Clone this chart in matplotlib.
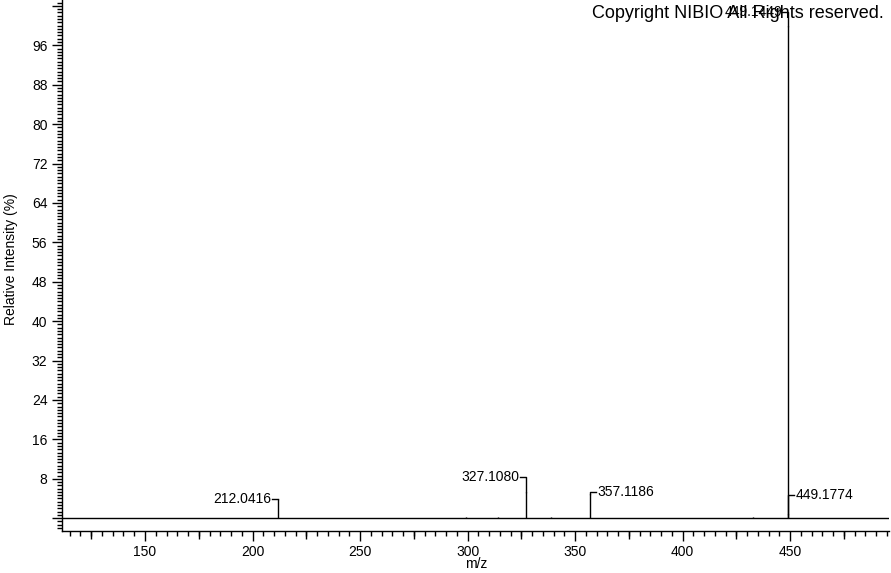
import matplotlib
matplotlib.use("Agg")
import matplotlib.pyplot as plt
from matplotlib.ticker import MultipleLocator, AutoMinorLocator, FuncFormatter

plt.rcParams['font.family'] = ['Liberation Sans', 'DejaVu Sans']

# Peak data (m/z, relative intensity %)
mz = [212.0416, 299.1, 314.0, 327.1080, 339.0, 357.1186, 432.9, 449.1449, 449.1774]
intensity = [3.8, 0.3, 0.3, 5.3, 0.3, 5.0, 0.3, 100.0, 0.8]

# Labelled peaks: (m/z, label text, label height, side)
label_mz = [212.0416, 327.1080, 357.1186, 449.1774, 449.1449]
label_text = ["212.0416", "327.1080", "357.1186", "449.1774", "449.1449"]
label_y = [3.9, 8.3, 5.3, 4.7, 102.7]
label_side = ["left", "left", "right", "right", "top"]

y_tick_labels = [8, 16, 24, 32, 40, 48, 56, 64, 72, 80, 88, 96]

xlim = (111.4, 496.0)
ylim = (-2.6, 105.2)

fig = plt.figure(figsize=(8.91, 5.73), dpi=100)
ax = fig.add_axes([62/891, 1 - 531/573, 827/891, 531/573])
ax.set_xlim(*xlim)
ax.set_ylim(*ylim)

for s in ['top', 'right']:
    ax.spines[s].set_visible(False)
for s in ['left', 'bottom']:
    ax.spines[s].set_linewidth(1.0)

# baseline
ax.axhline(0, color='black', lw=1.0)

# peaks
ax.vlines(mz, 0, intensity, color='black', lw=1.0)

# labels with connectors
dx = 2.8  # horizontal connector length in data units
for m, t, y, side in zip(label_mz, label_text, label_y, label_side):
    top = intensity[mz.index(m)]
    if side == "left":
        ax.plot([m - dx, m, m], [y, y, top], color='black', lw=1.0)
        ax.text(m - dx - 0.4, y, t, ha='right', va='center', fontsize=10)
    elif side == "right":
        ax.plot([m + dx, m, m], [y, y, top], color='black', lw=1.0)
        ax.text(m + dx + 0.6, y, t, ha='left', va='center', fontsize=10)
    else:
        ax.plot([m - dx, m, m], [y, y, top], color='black', lw=1.0)
        ax.text(m - dx - 0.2, y, t, ha='right', va='center', fontsize=10)

# ticks
ax.xaxis.set_major_locator(MultipleLocator(50))
ax.xaxis.set_minor_locator(MultipleLocator(5))
ax.yaxis.set_major_locator(MultipleLocator(8))
ax.yaxis.set_minor_locator(AutoMinorLocator(12))
ax.yaxis.set_major_formatter(FuncFormatter(
    lambda v, p: f"{v:g}" if round(v) in y_tick_labels else ""))
ax.tick_params(axis='both', which='major', length=7, width=1.0, labelsize=10, direction='out')
ax.tick_params(axis='both', which='minor', length=3.5, width=1.0, direction='out')
ax.tick_params(axis='x', which='major', pad=3)

# medium ticks at 25 offsets
sec = ax.secondary_xaxis('bottom')
sec.set_xticks([125, 175, 225, 275, 325, 375, 425, 475])
sec.set_xticklabels([])
sec.tick_params(length=5.5, width=1.0, direction='out')
sec.spines['bottom'].set_visible(False)

ax.set_xlabel("m/z", fontsize=10, labelpad=0)
ax.xaxis.set_label_coords(0.5006, -0.049)
ax.set_ylabel("Relative Intensity (%)", fontsize=10)
ax.yaxis.set_label_coords(-0.053, 0.512)

fig.text(884/891, 1 - 13/573, "Copyright NIBIO All Rights reserved.", ha='right', va='center', fontsize=13)

fig.savefig("out.png", dpi=100)
